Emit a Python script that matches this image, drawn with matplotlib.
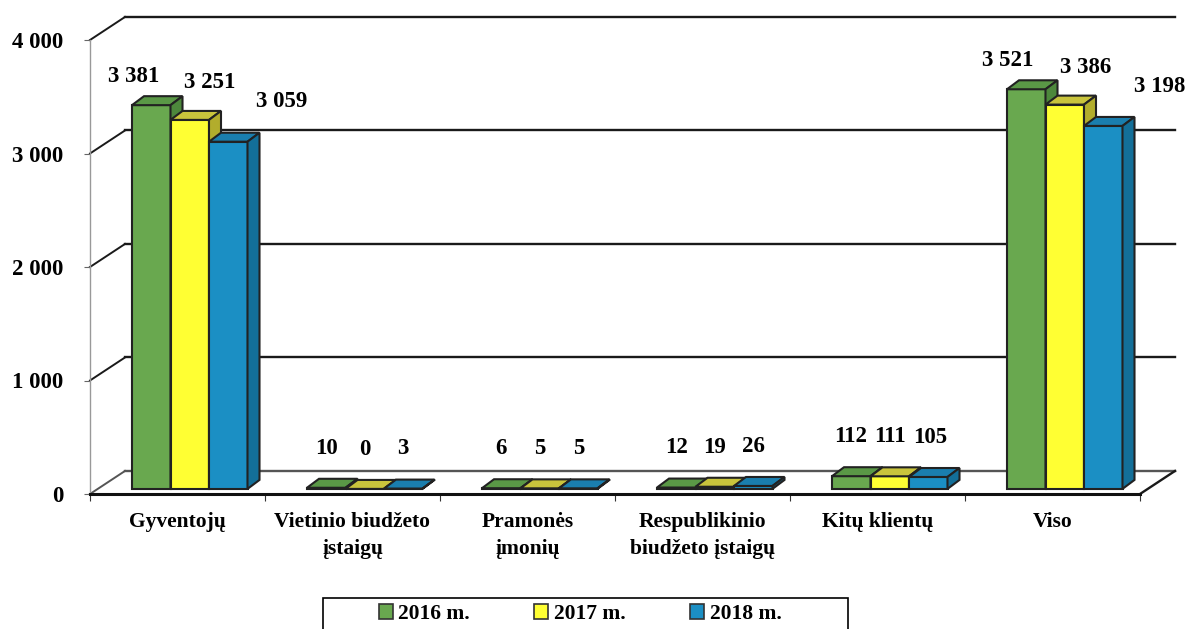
import numpy as np
import matplotlib.pyplot as plt
from matplotlib.patches import Polygon, Patch, Rectangle

plt.rcParams['font.family'] = ['Liberation Serif', 'DejaVu Serif']
plt.rcParams['font.weight'] = 'bold'

categories = ['Gyventojų', 'Vietinio biudžeto\nįstaigų', 'Pramonės\nįmonių',
              'Respublikinio\nbiudžeto įstaigų', 'Kitų klientų', 'Viso']
years = ['2016 m.', '2017 m.', '2018 m.']
v2016 = [3381, 10, 6, 12, 112, 3521]
v2017 = [3251, 0, 5, 19, 111, 3386]
v2018 = [3059, 3, 5, 26, 105, 3198]
yticks = [0, 1000, 2000, 3000, 4000]
ytick_labels = ['0', '1 000', '2 000', '3 000', '4 000']

series = [v2016, v2017, v2018]
front = ['#69a84f', '#ffff33', '#1b8fc4']
top = ['#5a9846', '#c9c43c', '#1a7eae']
side = ['#4d883c', '#b2ad2c', '#136f99']
edge = '#222222'

W, H = 1196, 629
fig = plt.figure(figsize=(W / 100, H / 100), dpi=100)
ax = fig.add_axes([90 / W, 1 - 494 / H, 1050 / W, 454 / H])
ax.set_xlim(-0.5, 5.5)
ax.set_ylim(0, 4000)

# back wall / floor (oblique depth)
dxw, dyw = 0.2, 203
for v in yticks:
    c = '#555555' if v == 0 else '#1a1a1a'
    ax.plot([-0.5, -0.5 + dxw], [v, v + dyw], color=c, lw=1.4, clip_on=False, zorder=1)
    ax.plot([-0.5 + dxw, 5.5 + dxw], [v + dyw, v + dyw], color=c, lw=1.7, clip_on=False, zorder=1)
ax.plot([5.5, 5.5 + dxw], [0, dyw], color='#1a1a1a', lw=1.7, clip_on=False, zorder=1)

# bars with fake 3d faces
bw = 0.22
goff = 0.07
lift = 45
dxb, dyb = 0.0686, 79
lab_drop = [95, 20, 0]
x = np.arange(len(categories))
for j, vals in enumerate(series):
    xs = x + goff + (j - 1) * bw
    bars = ax.bar(xs, vals, bw, bottom=lift, color=front[j], edgecolor=edge,
                  lw=1.5, clip_on=False, zorder=3 + j)
    for b, v in zip(bars, vals):
        x0, x1 = b.get_x(), b.get_x() + b.get_width()
        y0, y1 = b.get_y(), b.get_y() + b.get_height()
        ax.add_patch(Polygon([(x0, y1), (x0 + dxb, y1 + dyb), (x1 + dxb, y1 + dyb), (x1, y1)],
                             closed=True, fc=top[j], ec=edge, lw=1.5, clip_on=False, zorder=3 + j))
        ax.add_patch(Polygon([(x1, y0), (x1 + dxb, y0 + dyb), (x1 + dxb, y1 + dyb), (x1, y1)],
                             closed=True, fc=side[j], ec=edge, lw=1.5, clip_on=False, zorder=3 + j))
        frac = v / 3400
        lx = b.get_x() + bw / 2 + frac * (0.12 + (j - 1) * bw)
        ly = y1 + 350 - frac * lab_drop[j]
        ax.text(lx, ly, f'{v:,}'.replace(',', ' '), ha='center', va='center',
                fontsize=16.5, fontweight='bold', zorder=10)

# axes styling
for s in ['top', 'right']:
    ax.spines[s].set_visible(False)
ax.spines['left'].set_color('#999999')
ax.spines['left'].set_linewidth(1)
ax.spines['bottom'].set_color('#111111')
ax.spines['bottom'].set_linewidth(2.2)
ax.patch.set_alpha(0)

ax.set_yticks(yticks)
ax.set_yticklabels(ytick_labels)
ax.tick_params(axis='y', length=4, color='#666666', pad=15, labelsize=16.5)
ax.set_xticks(np.arange(-0.5, 6, 1))
ax.set_xticklabels([])
ax.tick_params(axis='x', which='major', length=5, color='#333333')
ax.set_xticks(x, minor=True)
ax.set_xticklabels(categories, minor=True, linespacing=1.45)
ax.tick_params(axis='x', which='minor', length=0, pad=13, labelsize=15.5)

# legend
fig.patches.append(Rectangle((323 / W, -0.02), 525 / W, (629 - 598) / H + 0.02,
                             transform=fig.transFigure, fill=False, ec='black', lw=1.2))
handles = [Patch(facecolor=front[j], edgecolor='#333333', lw=1.2) for j in range(3)]
fig.legend(handles, years, loc='center', bbox_to_anchor=(0.485, 1 - 614 / H), ncol=3,
           frameon=False, handlelength=0.65, handleheight=0.65, handletextpad=0.25,
           columnspacing=3.0, prop={'weight': 'bold', 'size': 15.5})

fig.savefig('out.png', dpi=100)
